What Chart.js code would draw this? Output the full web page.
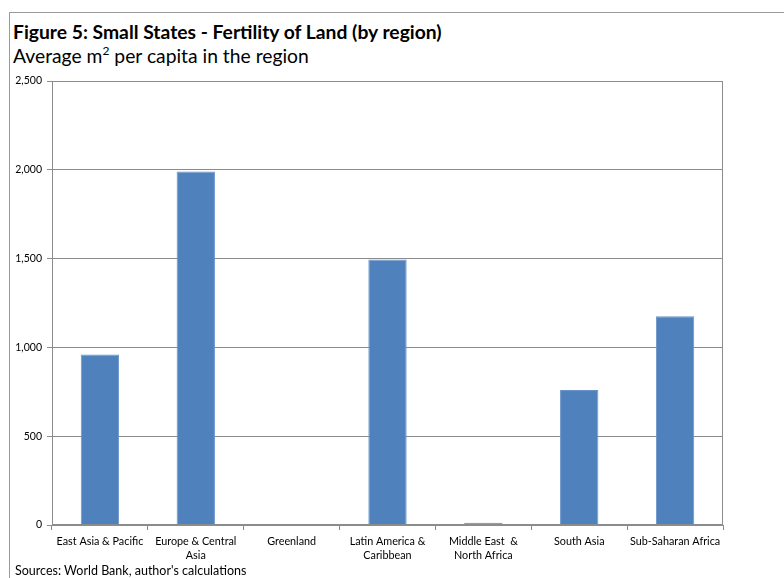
<!DOCTYPE html>
<html>
<head>
<meta charset="utf-8">
<script src="https://cdn.jsdelivr.net/npm/chart.js@4"></script>
<style>
  body { margin: 0; background: #fff; }
  #wrap { position: relative; width: 784px; height: 578px; overflow: hidden; font-family: Lato, "Open Sans", sans-serif; }
  #frame { position: absolute; left: 9px; top: 12px; width: 800px; height: 600px; border: 1px solid #9a9a9a; }
  #title { position: absolute; left: 13px; top: 20px; font-size: 19.3px; font-weight: bold; color: #000; white-space: nowrap; }
  #subtitle { position: absolute; left: 13px; top: 44px; font-size: 19.3px; color: #000; white-space: nowrap; }
  #subtitle sup { font-size: 12px; line-height: 0; position: relative; top: -1px; }
  #source { position: absolute; left: 15px; top: 563px; font-size: 12.5px; color: #000; white-space: nowrap; }
  canvas { position: absolute; left: 0; top: 0; }
</style>
</head>
<body>
<div id="wrap">
  <div id="frame"></div>
  <div id="title">Figure 5: Small States - Fertility of Land (by region)</div>
  <div id="subtitle">Average m<sup>2</sup> per capita in the region</div>
  <canvas id="barChartLand" width="784" height="578"></canvas>
  <div id="source">Sources: World Bank, author's calculations</div>
</div>
<script>
var regions = [
    'East Asia & Pacific',
    ['Europe & Central', 'Asia'],
    'Greenland',
    ['Latin America &', 'Caribbean'],
    ['Middle East  &', 'North Africa'],
    'South Asia',
    'Sub-Saharan Africa'
]
var landPerCapita = [960, 1990, 0, 1495, 12, 760, 1175]
var yTicks = [0, 500, 1000, 1500, 2000, 2500]

// box round the plot area, like the excel one
var plotBorder = {
    id: 'plotBorder',
    afterDraw: function (chart) {
        var a = chart.chartArea
        var ctx = chart.ctx
        ctx.save()
        ctx.strokeStyle = '#8c8c8c'
        ctx.lineWidth = 1
        ctx.strokeRect(a.left + 0.5, a.top + 0.5, a.right - a.left - 1, a.bottom - a.top - 1)
        ctx.restore()
    }
}

function loadLandBarChart() {
    var barChartCanvas = document.getElementById('barChartLand').getContext('2d')
    var barChartData = {
        labels: regions,
        datasets: [{
            data: landPerCapita,
            backgroundColor: '#4F81BD',
            borderColor: '#6a94c9',
            borderWidth: 1,
            barPercentage: 0.4,
            categoryPercentage: 1
        }]
    }
    var barChartOptions = {
        responsive: false,
        animation: false,
        layout: { padding: { top: 81, right: 61, bottom: 0, left: 0 } },
        plugins: { legend: { display: false }, tooltip: { enabled: false } },
        scales: {
            x: {
                grid: { offset: true, drawOnChartArea: false, tickLength: 5, color: '#8c8c8c' },
                border: { color: '#8c8c8c' },
                ticks: { color: '#000', font: { family: 'Lato', size: 10.8, lineHeight: 1.3 }, padding: 4, maxRotation: 0, autoSkip: false },
                afterFit: function (s) { s.height = 53 }
            },
            y: {
                min: 0,
                max: 2500,
                afterBuildTicks: function (s) { s.ticks = yTicks.map(function (v) { return { value: v } }) },
                grid: { color: '#8c8c8c', tickLength: 5 },
                border: { color: '#8c8c8c' },
                ticks: {
                    color: '#000',
                    font: { family: 'Lato', size: 10.5 },
                    padding: 5,
                    callback: function (v) { return v.toLocaleString('en-US') }
                },
                afterFit: function (s) { s.width = 52 }
            }
        }
    }
    new Chart(barChartCanvas, {
        type: 'bar',
        data: barChartData,
        options: barChartOptions,
        plugins: [plotBorder]
    })
}

loadLandBarChart()
</script>
</body>
</html>
